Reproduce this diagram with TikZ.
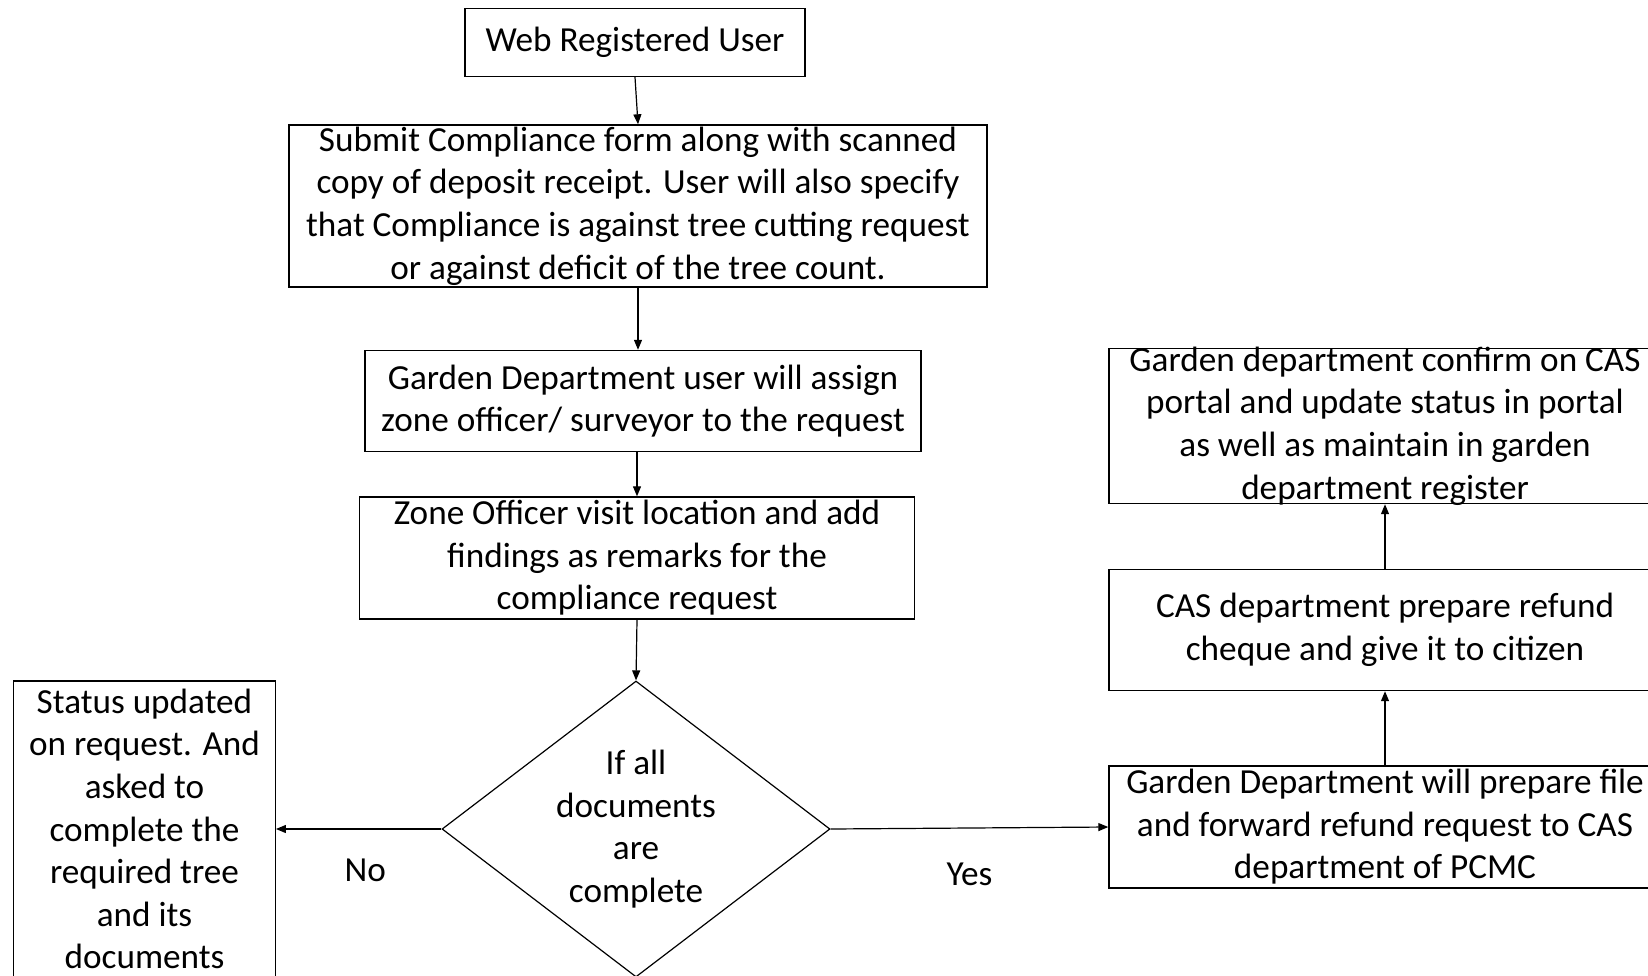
\documentclass[tikz,border=0pt]{standalone}
\usepackage{fontspec}
\setmainfont{Carlito}
\usepackage{tikz}
\usetikzlibrary{calc}
\usetikzlibrary{shapes}
\usetikzlibrary{arrows.meta}

\begin{document}
\begin{tikzpicture}[x=0.5pt, y=-0.5pt,
    box/.style={draw, line width=0.7pt, align=center, inner xsep=0pt, inner ysep=-4pt,
      font=\fontsize{17.6}{21.3}\selectfont},
    decision/.style={draw, diamond, aspect=1.31, line width=0.6pt, align=center, inner sep=0pt,
      font=\fontsize{17.6}{21.3}\selectfont},
    arr/.style={-{Triangle[length=5pt, width=4pt]}, line width=0.6pt},
    lbl/.style={font=\fontsize{17.6}{21.3}\selectfont}]
  \useasboundingbox (0,0) rectangle (1648,975);
  \clip (0,0) rectangle (1648,975);

  % main column
  \node[box, minimum width=170pt, minimum height=34pt] (user) at (635,42.5) {Web Registered User};
  \node[box, minimum width=349pt, minimum height=81pt] (submit) at (638,206)
    {Submit Compliance form along with scanned\\copy of deposit receipt. User will also specify\\that Compliance is against tree cutting request\\or against deficit of the tree count.};
  \node[box, minimum width=278pt, minimum height=50.5pt] (assign) at (643,401)
    {Garden Department user will assign\\zone officer/ surveyor to the request};
  \node[box, minimum width=277.5pt, minimum height=61pt] (visit) at (637,558)
    {Zone Officer visit location and add\\findings as remarks for the\\compliance request};
  \node[decision, minimum width=194pt, minimum height=148pt] (check) at (636,829)
    {If all\\documents\\are\\complete};

  % no branch
  \node[box, minimum width=130.75pt, minimum height=148pt] (status) at (144.5,829)
    {Status updated\\on request. And\\asked to\\complete the\\required tree\\and its\\documents};

  % yes branch
  \node[box, minimum width=276pt, minimum height=61pt] (prepare) at (1385,827)
    {Garden Department will prepare file\\and forward refund request to CAS\\department of PCMC};
  \node[box, minimum width=276pt, minimum height=60.5pt] (cheque) at (1385,630)
    {CAS department prepare refund\\cheque and give it to citizen};
  \node[box, minimum width=276pt, minimum height=77.5pt] (confirm) at (1385,426)
    {Garden department confirm on CAS\\portal and update status in portal\\as well as maintain in garden\\department register};

  \draw[arr] (user.south) -- (submit.north);
  \draw[arr] (submit.south) -- (submit.south |- assign.north);
  \draw[arr] (visit.north |- assign.south) -- (visit.north);
  \draw[arr] (visit.south) -- (check.north);
  \draw[arr] (check.west) -- node[lbl, pos=0.46, yshift=-20.5pt] {No} (status.east);
  \draw[arr] (check.east) -- node[lbl, pos=0.5, yshift=-23pt] {Yes} (prepare.west);
  \draw[arr] (prepare.north) -- (cheque.south);
  \draw[arr] (cheque.north) -- (confirm.south);
\end{tikzpicture}
\end{document}
